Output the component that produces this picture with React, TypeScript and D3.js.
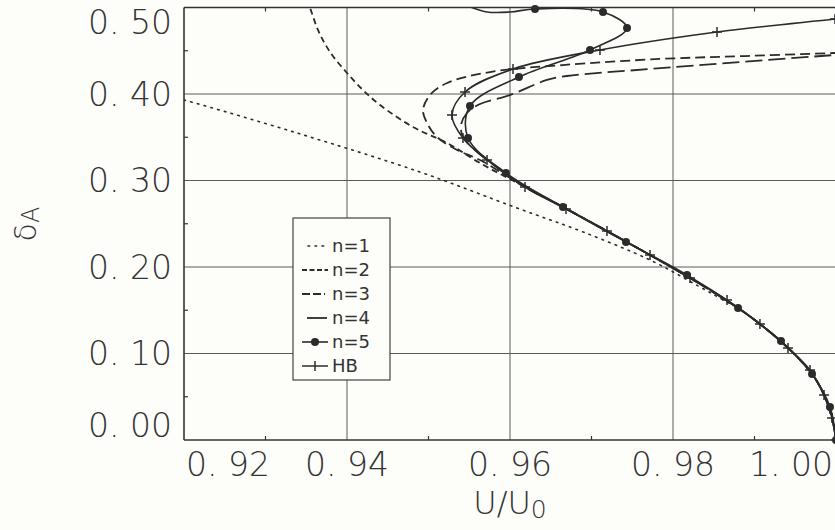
import React from 'react';
import * as d3 from 'd3';

const W = 835;
const H = 530;

// Velocity profiles: [U/U0, δA]
// Branch near the wall shared by the truncated series n=1..4
const nearWall: [number, number][] = [
  [0.96184, 0.2925], [0.9665, 0.2694], [0.9719, 0.2416], [0.97718, 0.2139],
  [0.98209, 0.1873], [0.98798, 0.1526], [0.99067, 0.1341], [0.99411, 0.1064],
  [0.99706, 0.0763], [0.99853, 0.052], [0.99951, 0.0254], [1.0, 0.0],
];

const n1Outer: [number, number][] = [
  [0.915, 0.405], [0.92, 0.3931], [0.93387, 0.3549], [0.94896, 0.3098], [0.96086, 0.2682],
  [0.96896, 0.2405], [0.97718, 0.2081], [0.98331, 0.1769], [0.98663, 0.1595],
];

const n2Outer: [number, number][] = [
  [0.93497, 0.5087], [0.93546, 0.4994], [0.93644, 0.474], [0.93791, 0.4486], [0.94, 0.4243],
  [0.94196, 0.4046], [0.94405, 0.3873], [0.9481, 0.3618], [0.95227, 0.3434], [0.95632, 0.3202],
];

const n3Outer: [number, number][] = [
  [1.00785, 0.4497], [0.99988, 0.4474], [0.98883, 0.4439], [0.9784, 0.4405], [0.9665, 0.4335],
  [0.95755, 0.4254], [0.95227, 0.4127], [0.95018, 0.3988], [0.94933, 0.3815], [0.94982, 0.3665],
  [0.95104, 0.3503], [0.9535, 0.3353], [0.95632, 0.3237],
];

const n4Outer: [number, number][] = [
  [1.00785, 0.4503], [0.99988, 0.4451], [0.97718, 0.4289], [0.96699, 0.4208], [0.96454, 0.4162],
  [0.96, 0.3988], [0.95632, 0.3884], [0.95472, 0.378], [0.95399, 0.3642], [0.95423, 0.3503],
  [0.95571, 0.3353], [0.95755, 0.3214],
];

// n=5 computed points (drawn with dots) and its continuation along the top
const n5Points: [number, number][] = [
  [1.0, 0.0], [0.99926, 0.0382], [0.99706, 0.0763], [0.99325, 0.1145], [0.98798, 0.1526],
  [0.98172, 0.1908], [0.97423, 0.2289], [0.9665, 0.2694], [0.95951, 0.3087], [0.95485, 0.3491],
  [0.95509, 0.3861], [0.9611, 0.4197], [0.96982, 0.4509], [0.97436, 0.4763], [0.97141, 0.4948],
  [0.96307, 0.4983],
];
const n5Tail: [number, number][] = [[0.96, 0.4948], [0.95718, 0.4948], [0.95485, 0.5017]];

// Reference solution HB (drawn with crosses)
const hbPoints: [number, number][] = [
  [1.0, 0.0], [0.99951, 0.0254], [0.99853, 0.052], [0.99681, 0.0809], [0.99411, 0.1064],
  [0.99067, 0.1341], [0.98663, 0.1618], [0.98209, 0.1873], [0.97718, 0.2139], [0.9719, 0.2416],
  [0.96687, 0.2671], [0.96184, 0.2925], [0.95718, 0.3237], [0.95423, 0.3491], [0.95288, 0.3757],
  [0.95448, 0.4023], [0.96037, 0.4289], [0.97104, 0.4509], [0.9854, 0.4717], [0.99988, 0.4867],
  [1.00785, 0.4948],
];

const uMajor = [0.92, 0.94, 0.96, 0.98, 1.0];
const uMinor = [0.93, 0.95, 0.97, 0.99];
const dMajor = [0.0, 0.1, 0.2, 0.3, 0.4, 0.5];
const dMinor = [0.05, 0.15, 0.25, 0.35, 0.45];
const uGrid = [0.94, 0.96, 0.98];
const dGrid = [0.1, 0.2, 0.3, 0.4];

const legendLabels = ['n=1', 'n=2', 'n=3', 'n=4', 'n=5', 'HB'];

const withWall = (outer: [number, number][]) => {
  const lowest = d3.min(outer, (p) => p[1]) as number;
  return outer.concat(nearWall.filter((p) => p[1] < lowest - 1e-6));
};

const INK = '#2b2b2b';
const FONT = "'DejaVu Sans', sans-serif";

export default function App() {
  const x = d3.scaleLinear().domain([0.92, 1.0]).range([184, 836]);
  const y = d3.scaleLinear().domain([0, 0.5]).range([440, 7.5]);
  const [x0, x1] = [184, W + 10];
  const [yTop, yBot] = [y(0.5), y(0)];

  const line = d3
    .line<[number, number]>()
    .x((p) => x(p[0]))
    .y((p) => y(p[1]))
    .curve(d3.curveCatmullRom.alpha(0.5));

  const fmt = (v: number) => d3.format('.2f')(v).replace('.', '. ');

  const series = [
    { key: 'n1', d: line(withWall(n1Outer)), dash: '1.6,5.4', w: 1.6, cap: 'round' },
    { key: 'n2', d: line(withWall(n2Outer)), dash: '6,4', w: 1.8, cap: 'butt' },
    { key: 'n3', d: line(withWall(n3Outer)), dash: '10,5', w: 1.8, cap: 'butt' },
    { key: 'n4', d: line(withWall(n4Outer)), dash: '17,6', w: 1.8, cap: 'butt' },
    { key: 'n5', d: line(n5Points.concat(n5Tail)), dash: undefined, w: 1.6, cap: 'butt' },
    { key: 'hb', d: line(hbPoints), dash: undefined, w: 1.6, cap: 'butt' },
  ];

  const legendX = 293;
  const legendY = 218;
  const rowY = (i: number) => 246 + i * 24;

  return (
    <svg
      width={W}
      height={H}
      style={{ position: 'absolute', left: 0, top: 0, background: '#fdfdfa' }}
      fontFamily={FONT}
    >
      <defs>
        <clipPath id="plot-clip">
          <rect x={x0} y={yTop} width={x1 - x0} height={yBot - yTop} />
        </clipPath>
      </defs>
      <rect x={0} y={0} width={W} height={H} fill="#fdfdfa" />

      {/* grid */}
      {uGrid.map((u) => (
        <line key={'gu' + u} x1={x(u)} x2={x(u)} y1={yTop} y2={yBot} stroke="#5a5a5a" strokeWidth={1} />
      ))}
      {dGrid.map((v) => (
        <line key={'gd' + v} x1={x0} x2={x1} y1={y(v)} y2={y(v)} stroke="#5a5a5a" strokeWidth={1} />
      ))}

      {/* curves */}
      <g clipPath="url(#plot-clip)" fill="none" stroke={INK}>
        {series.map((s) => (
          <path
            key={s.key}
            d={s.d || ''}
            strokeWidth={s.w}
            strokeDasharray={s.dash}
            strokeLinecap={s.cap as any}
          />
        ))}
      </g>

      {/* markers */}
      <g>
        {n5Points.map((p, i) => (
          <circle key={'m5' + i} cx={x(p[0])} cy={y(p[1])} r={4} fill={INK} />
        ))}
        {hbPoints.map((p, i) => (
          <path
            key={'hb' + i}
            d={`M${x(p[0]) - 5},${y(p[1])}h10M${x(p[0])},${y(p[1]) - 5}v10`}
            stroke={INK}
            strokeWidth={1.5}
          />
        ))}
      </g>

      {/* frame */}
      <g stroke="#333" strokeWidth={1.6} fill="none">
        <line x1={x0} x2={x0} y1={yTop} y2={yBot} />
        <line x1={x0} x2={x1} y1={yBot} y2={yBot} />
        <line x1={x0} x2={x1} y1={yTop} y2={yTop} />
      </g>
      <g stroke="#333" strokeWidth={1.2}>
        {uMinor.map((u) => (
          <g key={'tu' + u}>
            <line x1={x(u)} x2={x(u)} y1={yBot} y2={yBot - 4} />
            <line x1={x(u)} x2={x(u)} y1={yTop} y2={yTop + 4} />
          </g>
        ))}
        {dMinor.map((v) => (
          <line key={'td' + v} x1={x0} x2={x0 + 4} y1={y(v)} y2={y(v)} />
        ))}
      </g>

      {/* legend */}
      <g>
        <rect x={legendX} y={legendY} width={97} height={162} fill="#fdfdfa" stroke="#444" strokeWidth={1.2} />
        {legendLabels.map((lab, i) => {
          const yy = rowY(i);
          const s = series[i];
          let sample: React.ReactNode = null;
          if (i === 3) {
            sample = <line x1={307} x2={327} y1={yy} y2={yy} stroke={INK} strokeWidth={1.8} />;
          } else if (i === 2) {
            sample = <line x1={302} x2={325} y1={yy} y2={yy} stroke={INK} strokeWidth={1.8} strokeDasharray="8,3" />;
          } else if (i === 1) {
            sample = <line x1={302} x2={328} y1={yy} y2={yy} stroke={INK} strokeWidth={1.8} strokeDasharray="5,2.5" />;
          } else if (i === 0) {
            sample = (
              <line x1={308} x2={328} y1={yy} y2={yy} stroke={INK} strokeWidth={1.6} strokeDasharray={s.dash} strokeLinecap="round" />
            );
          } else if (i === 4) {
            sample = (
              <g>
                <line x1={302} x2={328} y1={yy} y2={yy} stroke={INK} strokeWidth={1.6} />
                <circle cx={315} cy={yy} r={4} fill={INK} />
              </g>
            );
          } else {
            sample = (
              <g stroke={INK} strokeWidth={1.5}>
                <line x1={302} x2={328} y1={yy} y2={yy} />
                <line x1={315} x2={315} y1={yy - 5} y2={yy + 5} />
              </g>
            );
          }
          return (
            <g key={lab}>
              {sample}
              <text x={332} y={yy} dy="0.36em" fontSize={18} fill="#333">
                {lab}
              </text>
            </g>
          );
        })}
      </g>

      {/* tick labels */}
      <g fontSize={33} fill="#333" fontWeight={200}>
        {dMajor.map((v) => {
          let cy = y(v);
          if (v === 0.5) cy = 22;
          if (v === 0) cy = 425;
          return (
            <text key={'ld' + v} x={172} y={cy} dy="0.36em" textAnchor="end">
              {fmt(v)}
            </text>
          );
        })}
        {uMajor.map((u) => {
          let anchor: 'start' | 'middle' | 'end' = 'middle';
          let xx = x(u);
          if (u === 0.92) {
            anchor = 'start';
            xx = 186;
          }
          if (u === 1.0) {
            anchor = 'end';
            xx = 833;
          }
          return (
            <text key={'lu' + u} x={xx} y={476} textAnchor={anchor}>
              {fmt(u)}
            </text>
          );
        })}
      </g>

      {/* axis titles */}
      <text x={510} y={514} fontSize={32} fill="#333" textAnchor="middle" fontWeight={200}>
        U/U
        <tspan fontSize={25} dy={4}>0</tspan>
      </text>
      <text
        transform="translate(36,224) rotate(-90)"
        fontSize={30}
        fill="#333"
        textAnchor="middle"
        fontWeight={200}
      >
        δ
        <tspan fontSize={24} dy={3}>A</tspan>
      </text>
    </svg>
  );
}
